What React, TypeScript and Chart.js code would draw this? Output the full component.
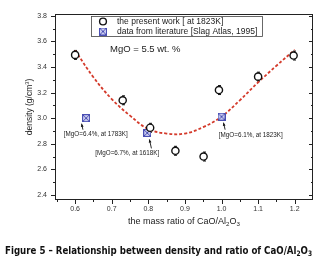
import React, { useEffect, useRef } from 'react';
import { Chart, registerables } from 'chart.js';

Chart.register(...registerables);

// ---------- data ----------
const X_TICKS = [0.6, 0.7, 0.8, 0.9, 1.0, 1.1, 1.2];
const Y_TICKS = [2.4, 2.6, 2.8, 3.0, 3.2, 3.4, 3.6, 3.8];

const PRESENT_RATIO = [0.6, 0.73, 0.805, 0.874, 0.951, 0.993, 1.1, 1.197];
const PRESENT_DENSITY = [3.495, 3.14, 2.925, 2.745, 2.7, 3.22, 3.325, 3.49];
const PRESENT_ERROR = [0.035, 0.035, 0.035, 0.035, 0.035, 0.035, 0.035, 0.035];

const LIT_RATIO = [0.63, 0.797, 1.0];
const LIT_DENSITY = [3.0, 2.885, 3.012];
const LIT_NOTES = ['[MgO=6.4%, at 1783K]', '[MgO=6.7%, at 1618K]', '[MgO=6.1%, at 1823K]'];

const FIT_RATIO = [0.6, 0.65, 0.7, 0.75, 0.8, 0.85, 0.9, 0.95, 1.0, 1.05, 1.1, 1.15, 1.2];
const FIT_DENSITY = [3.53, 3.32, 3.15, 3.02, 2.915, 2.88, 2.88, 2.93, 3.012, 3.14, 3.28, 3.41, 3.535];

const LABEL_PRESENT = 'the present work [ at 1823K]';
const LABEL_LIT = 'data from literature [Slag Atlas, 1995]';
const NOTE_MGO = 'MgO = 5.5 wt. %';

type Seg = { t: string; s?: 'sub' | 'sup' };
const X_TITLE: Seg[] = [{ t: 'the mass ratio of CaO/Al' }, { t: '2', s: 'sub' }, { t: 'O' }, { t: '3', s: 'sub' }];
const Y_TITLE: Seg[] = [{ t: 'density (g/cm' }, { t: '3', s: 'sup' }, { t: ')' }];
const CAPTION: Seg[] = [
  { t: 'Figure 5 \u2013 Relationship between density and ratio of CaO/Al' },
  { t: '2', s: 'sub' },
  { t: 'O' },
  { t: '3', s: 'sub' },
];

// ---------- layout / style ----------
const FONT = "'Liberation Sans', Arial, sans-serif";
const CAPTION_FONT = "'Liberation Sans Narrow', 'DejaVu Sans Condensed', 'Liberation Sans', Arial, sans-serif";
const NOTE_LAYOUT = [
  { tx: 9.7, ty: 15.8, hx: -4.5, hy: 5.5, ax: -3.2, ay: 11.5 },
  { tx: -20, ty: 20, hx: 2.2, hy: 6.5, ax: 4.2, ay: 15.5 },
  { tx: 29.3, ty: 18.3, hx: 2, hy: 6, ax: 3.6, ay: 13 },
];

function segFont(size: number, s: Seg, family: string, weight: string) {
  const sz = s.s ? size * 0.68 : size;
  return `${weight} ${sz}px ${family}`;
}
function measureRich(ctx: CanvasRenderingContext2D, segs: Seg[], size: number, family: string, weight: string) {
  let w = 0;
  for (const s of segs) {
    ctx.font = segFont(size, s, family, weight);
    w += ctx.measureText(s.t).width;
  }
  return w;
}
function drawRich(
  ctx: CanvasRenderingContext2D,
  segs: Seg[],
  x: number,
  y: number,
  size: number,
  family: string,
  weight: string,
  align: 'left' | 'center',
  color: string
) {
  const w = measureRich(ctx, segs, size, family, weight);
  let cx = align === 'center' ? x - w / 2 : x;
  ctx.fillStyle = color;
  ctx.textAlign = 'left';
  ctx.textBaseline = 'middle';
  for (const s of segs) {
    ctx.font = segFont(size, s, family, weight);
    const dy = s.s === 'sub' ? size * 0.3 : s.s === 'sup' ? -size * 0.35 : 0;
    ctx.fillText(s.t, cx, y + dy);
    cx += ctx.measureText(s.t).width;
  }
  return w;
}

function makeCrossSquare(): HTMLCanvasElement {
  const c = document.createElement('canvas');
  c.width = 8;
  c.height = 8;
  const g = c.getContext('2d')!;
  g.fillStyle = '#c9cbef';
  g.fillRect(0, 0, 8, 8);
  g.strokeStyle = '#4a4fb3';
  g.lineWidth = 1;
  g.strokeRect(0.5, 0.5, 7, 7);
  g.beginPath();
  g.moveTo(1, 1);
  g.lineTo(7, 7);
  g.moveTo(7, 1);
  g.lineTo(1, 7);
  g.stroke();
  return c;
}

function arrow(ctx: CanvasRenderingContext2D, x1: number, y1: number, x2: number, y2: number) {
  ctx.strokeStyle = '#111';
  ctx.fillStyle = '#111';
  ctx.lineWidth = 0.9;
  ctx.beginPath();
  ctx.moveTo(x1, y1);
  ctx.lineTo(x2, y2);
  ctx.stroke();
  const ang = Math.atan2(y2 - y1, x2 - x1);
  const L = 3.2;
  const W = 1.4;
  ctx.beginPath();
  ctx.moveTo(x2, y2);
  ctx.lineTo(x2 - L * Math.cos(ang) + W * Math.sin(ang), y2 - L * Math.sin(ang) - W * Math.cos(ang));
  ctx.lineTo(x2 - L * Math.cos(ang) - W * Math.sin(ang), y2 - L * Math.sin(ang) + W * Math.cos(ang));
  ctx.closePath();
  ctx.fill();
}

export default function App() {
  const ref = useRef<HTMLCanvasElement>(null);

  useEffect(() => {
    const canvas = ref.current!;
    const crossSquare = makeCrossSquare();

    const decor = {
      id: 'decor',
      beforeDatasetsDraw(chart: any) {
        const { ctx, scales } = chart;
        const xs = scales.x;
        const ys = scales.y;
        ctx.save();
        ctx.strokeStyle = '#111';
        ctx.lineWidth = 1;
        PRESENT_RATIO.forEach((r, i) => {
          const px = Math.round(xs.getPixelForValue(r)) + 0.5;
          const top = ys.getPixelForValue(PRESENT_DENSITY[i] + PRESENT_ERROR[i]);
          const bot = ys.getPixelForValue(PRESENT_DENSITY[i] - PRESENT_ERROR[i]);
          ctx.beginPath();
          ctx.moveTo(px, top);
          ctx.lineTo(px, bot);
          ctx.moveTo(px - 1.5, top);
          ctx.lineTo(px + 1.5, top);
          ctx.moveTo(px - 1.5, bot);
          ctx.lineTo(px + 1.5, bot);
          ctx.stroke();
        });
        ctx.restore();
      },
      afterDraw(chart: any) {
        const { ctx, chartArea: a, scales } = chart;
        const xs = scales.x;
        const ys = scales.y;
        ctx.save();
        // frame
        ctx.strokeStyle = '#222';
        ctx.lineWidth = 1;
        ctx.strokeRect(a.left + 0.5, a.top + 0.5, a.right - a.left - 1, a.bottom - a.top - 1);

        // ticks
        const yStep = Y_TICKS[1] - Y_TICKS[0];
        const xStep = X_TICKS[1] - X_TICKS[0];
        const yMinor: number[] = [];
        for (let i = -1; i < Y_TICKS.length; i++) {
          const v = (i < 0 ? Y_TICKS[0] - yStep : Y_TICKS[i]) + yStep / 2;
          if (v > ys.min && v < ys.max) yMinor.push(v);
        }
        const xMinor: number[] = [];
        for (let i = -1; i < X_TICKS.length; i++) {
          const v = (i < 0 ? X_TICKS[0] - xStep : X_TICKS[i]) + xStep / 2;
          if (v > xs.min && v < xs.max - 0.002) xMinor.push(v);
        }
        ctx.beginPath();
        const hy = (v: number, len: number) => {
          const py = Math.round(ys.getPixelForValue(v)) + 0.5;
          ctx.moveTo(a.left, py);
          ctx.lineTo(a.left - len, py);
          ctx.moveTo(a.right, py);
          ctx.lineTo(a.right - len, py);
        };
        const vx = (v: number, len: number) => {
          const px = Math.round(xs.getPixelForValue(v)) + 0.5;
          ctx.moveTo(px, a.bottom);
          ctx.lineTo(px, a.bottom + len);
        };
        Y_TICKS.forEach((v) => hy(v, 4));
        yMinor.forEach((v) => hy(v, 2));
        X_TICKS.forEach((v) => vx(v, 4));
        xMinor.forEach((v) => vx(v, 2));
        ctx.stroke();

        // axis titles
        drawRich(ctx, X_TITLE, (a.left + a.right) / 2, 222, 9, FONT, 'normal', 'center', '#222');
        ctx.save();
        ctx.translate(30, (a.top + a.bottom) / 2);
        ctx.rotate(-Math.PI / 2);
        drawRich(ctx, Y_TITLE, 0, 0, 8.5, FONT, 'normal', 'center', '#222');
        ctx.restore();

        // legend box
        ctx.fillStyle = '#fff';
        ctx.fillRect(91.5, 16.5, 171, 20);
        ctx.strokeStyle = '#444';
        ctx.lineWidth = 0.8;
        ctx.strokeRect(91.5, 16.5, 171, 20);
        ctx.beginPath();
        ctx.arc(103, 21.5, 3.4, 0, Math.PI * 2);
        ctx.fillStyle = '#fff';
        ctx.fill();
        ctx.strokeStyle = '#111';
        ctx.lineWidth = 1.4;
        ctx.stroke();
        ctx.drawImage(crossSquare, 99, 27.5);
        ctx.font = `8.5px ${FONT}`;
        ctx.fillStyle = '#222';
        ctx.textAlign = 'left';
        ctx.textBaseline = 'middle';
        ctx.fillText(chart.data.datasets[0].label, 117, 21.5);
        ctx.fillText(chart.data.datasets[1].label, 117, 31.5);

        // MgO note
        ctx.font = `9.5px ${FONT}`;
        ctx.fillText(NOTE_MGO, 110, 49);

        // literature notes
        LIT_RATIO.forEach((r, i) => {
          const px = xs.getPixelForValue(r);
          const py = ys.getPixelForValue(LIT_DENSITY[i]);
          const L = NOTE_LAYOUT[i];
          arrow(ctx, px + L.ax, py + L.ay, px + L.hx, py + L.hy);
          ctx.font = `6.3px ${FONT}`;
          ctx.fillStyle = '#222';
          ctx.textAlign = 'center';
          ctx.textBaseline = 'middle';
          ctx.fillText(LIT_NOTES[i], px + L.tx, py + L.ty);
        });

        // caption
        const capSize = 11;
        const cw = measureRich(ctx, CAPTION, capSize, CAPTION_FONT, 'bold');
        const target = 307;
        ctx.save();
        ctx.translate(5, 251);
        ctx.scale(target / cw, 1);
        drawRich(ctx, CAPTION, 0, 0, capSize, CAPTION_FONT, 'bold', 'left', '#111');
        ctx.restore();

        ctx.restore();
      },
    };

    const chart = new Chart(canvas, {
      type: 'scatter',
      data: {
        datasets: [
          {
            label: LABEL_PRESENT,
            data: PRESENT_RATIO.map((x, i) => ({ x, y: PRESENT_DENSITY[i] })),
            pointStyle: 'circle',
            pointRadius: 3.6,
            pointBorderWidth: 1.4,
            pointBackgroundColor: '#fff',
            pointBorderColor: '#111',
            order: 0,
          } as any,
          {
            label: LABEL_LIT,
            data: LIT_RATIO.map((x, i) => ({ x, y: LIT_DENSITY[i] })),
            pointStyle: crossSquare,
            pointRadius: 4,
            order: 1,
          } as any,
          {
            type: 'line',
            label: 'fit',
            data: FIT_RATIO.map((x, i) => ({ x, y: FIT_DENSITY[i] })),
            borderColor: '#d43b2c',
            borderWidth: 1.8,
            borderDash: [3, 2],
            pointRadius: 0,
            fill: false,
            tension: 0.4,
            order: 2,
          } as any,
        ],
      },
      options: {
        responsive: false,
        devicePixelRatio: 1,
        animation: false,
        events: [],
        layout: { padding: { top: 14, right: 9, left: 0, bottom: 0 } },
        plugins: { legend: { display: false }, tooltip: { enabled: false }, title: { display: false } },
        scales: {
          x: {
            type: 'linear',
            min: 0.545,
            max: 1.25,
            grid: { display: false, drawTicks: false },
            border: { display: false },
            afterBuildTicks: (s: any) => {
              s.ticks = X_TICKS.map((value) => ({ value }));
            },
            afterFit: (s: any) => {
              s.height = 64;
            },
            ticks: {
              font: { family: FONT, size: 7 },
              color: '#333',
              padding: 5,
              maxRotation: 0,
              autoSkip: false,
              callback: (v: any) => Number(v).toFixed(1),
            },
          },
          y: {
            type: 'linear',
            min: 2.36,
            max: 3.815,
            grid: { display: false, drawTicks: false },
            border: { display: false },
            afterBuildTicks: (s: any) => {
              s.ticks = Y_TICKS.map((value) => ({ value }));
            },
            afterFit: (s: any) => {
              s.width = 55;
            },
            ticks: {
              font: { family: FONT, size: 7 },
              color: '#333',
              padding: 8,
              autoSkip: false,
              callback: (v: any) => Number(v).toFixed(1),
            },
          },
        },
      },
      plugins: [decor],
    });
    return () => chart.destroy();
  }, []);

  return (
    <div style={{ position: 'fixed', left: 0, top: 0, width: 322, height: 264, background: '#fff' }}>
      <canvas ref={ref} width={322} height={264} style={{ width: 322, height: 264, display: 'block' }} />
    </div>
  );
}
